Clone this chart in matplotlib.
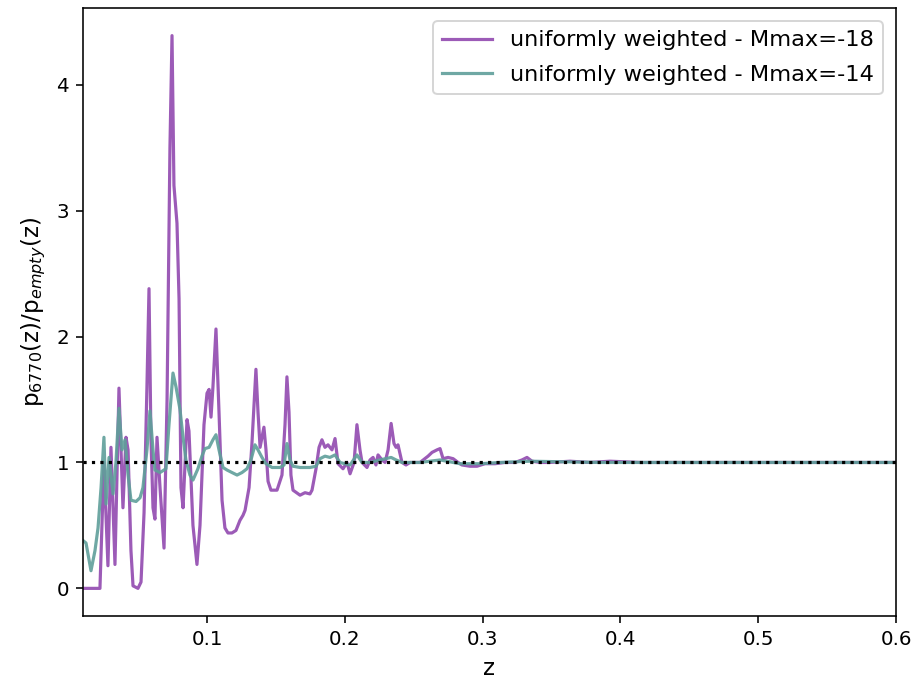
import matplotlib
matplotlib.use("Agg")
import matplotlib.pyplot as plt
import numpy as np

# redshift grid & ratio values
z_m18 = [0.010, 0.0223, 0.0252, 0.0281, 0.0303, 0.0332, 0.0361, 0.0390, 0.0412, 0.0427,
         0.0448, 0.0463, 0.0499, 0.0521, 0.0543, 0.0564, 0.0579, 0.0593, 0.0608, 0.0622,
         0.0637, 0.0659, 0.0688, 0.0710, 0.0731, 0.0746, 0.0760, 0.0782, 0.0797, 0.0811,
         0.0826, 0.0855, 0.0869, 0.0898, 0.0927, 0.0949, 0.0978, 0.1000, 0.1015, 0.1029,
         0.1043, 0.1065, 0.1087, 0.1109, 0.1130, 0.1152, 0.1181, 0.1210, 0.1239, 0.1261,
         0.1276, 0.1305, 0.1326, 0.1355, 0.1370, 0.1385, 0.1399, 0.1413, 0.1428, 0.1443,
         0.1464, 0.1508, 0.1544, 0.1566, 0.1580, 0.1595, 0.1609, 0.1624, 0.1675, 0.1711,
         0.1747, 0.1762, 0.1791, 0.1813, 0.1834, 0.1856, 0.1878, 0.1907, 0.1929, 0.1951,
         0.1987, 0.2016, 0.2038, 0.2067, 0.2088, 0.2110, 0.2125, 0.2161, 0.2183, 0.2205,
         0.2226, 0.2241, 0.2270, 0.2292, 0.2314, 0.2336, 0.2357, 0.2372, 0.2386, 0.2415,
         0.2444, 0.2473, 0.2546, 0.2604, 0.2633, 0.2669, 0.2691, 0.2713, 0.2749, 0.2786,
         0.2822, 0.2850, 0.2908, 0.2959, 0.3017, 0.3090, 0.3162, 0.3235, 0.3286, 0.3322,
         0.3358, 0.3416, 0.3489, 0.3634, 0.3779, 0.3924, 0.4142, 0.4432, 0.4723, 0.5013,
         0.5303, 0.5666, 0.600]
ratio_m18 = [0.0, 0.0, 1.0, 0.18, 1.12, 0.19, 1.59, 0.64, 1.2, 1.1,
             0.3, 0.02, 0.0, 0.05, 0.6, 1.6, 2.38, 1.2, 0.64, 0.55,
             1.2, 0.8, 0.32, 1.5, 3.5, 4.39, 3.2, 2.9, 2.3, 0.8,
             0.64, 1.34, 1.25, 0.5, 0.19, 0.5, 1.3, 1.55, 1.58, 1.36,
             1.6, 2.06, 1.4, 0.7, 0.48, 0.44, 0.44, 0.46, 0.54, 0.58,
             0.62, 0.8, 1.15, 1.74, 1.4, 1.12, 1.2, 1.28, 1.1, 0.85,
             0.78, 0.78, 0.9, 1.3, 1.68, 1.4, 0.9, 0.78, 0.74, 0.76,
             0.75, 0.78, 0.95, 1.12, 1.18, 1.12, 1.14, 1.1, 1.19, 0.99,
             0.95, 1.0, 0.91, 1.0, 1.3, 1.1, 1.0, 0.96, 1.02, 1.04,
             0.98, 1.06, 1.02, 1.0, 1.1, 1.31, 1.15, 1.12, 1.14, 1.0,
             0.98, 1.0, 1.0, 1.05, 1.08, 1.1, 1.11, 1.03, 1.04, 1.03,
             1.0, 0.98, 0.97, 0.97, 0.99, 0.99, 1.0, 1.0, 1.02, 1.04,
             1.01, 1.0, 1.0, 1.01, 1.0, 1.01, 1.0, 1.0, 1.0, 1.0,
             1.0, 1.0, 1.0]

z_m14 = [0.010, 0.0122, 0.0158, 0.0187, 0.0209, 0.0231, 0.0252, 0.0267, 0.0289, 0.0318,
         0.0339, 0.0361, 0.0383, 0.0405, 0.0427, 0.0448, 0.0485, 0.0514, 0.0535, 0.0564,
         0.0586, 0.0608, 0.0622, 0.0659, 0.0702, 0.0724, 0.0753, 0.0775, 0.0804, 0.0826,
         0.0847, 0.0876, 0.0898, 0.0934, 0.0963, 0.0985, 0.1015, 0.1043, 0.1065, 0.1087,
         0.1116, 0.1145, 0.1181, 0.1218, 0.1254, 0.1290, 0.1319, 0.1348, 0.1370, 0.1399,
         0.1428, 0.1472, 0.1530, 0.1559, 0.1580, 0.1602, 0.1624, 0.1675, 0.1747, 0.1791,
         0.1820, 0.1856, 0.1892, 0.1929, 0.1965, 0.2038, 0.2088, 0.2125, 0.2183, 0.2255,
         0.2336, 0.2372, 0.2415, 0.2546, 0.2691, 0.2836, 0.2981, 0.3126, 0.3344, 0.3852,
         0.4578, 0.600]
ratio_m14 = [0.38, 0.36, 0.14, 0.3, 0.48, 0.8, 1.2, 0.67, 1.04, 0.75,
             1.0, 1.43, 1.1, 1.18, 0.9, 0.7, 0.69, 0.72, 0.8, 1.1,
             1.41, 1.1, 0.94, 0.92, 0.95, 1.3, 1.71, 1.6, 1.42, 1.2,
             1.02, 0.9, 0.86, 0.95, 1.05, 1.11, 1.12, 1.18, 1.22, 1.1,
             0.96, 0.94, 0.92, 0.9, 0.92, 0.95, 1.02, 1.14, 1.1, 1.04,
             0.99, 0.96, 0.96, 0.98, 1.15, 1.02, 0.97, 0.96, 0.96, 0.97,
             1.03, 1.05, 1.04, 1.06, 1.0, 0.98, 1.06, 1.0, 1.0, 1.02,
             1.04, 1.02, 1.0, 1.0, 1.02, 0.99, 0.99, 1.0, 1.01, 1.0,
             1.0, 1.0]

labels = ["uniformly weighted - Mmax=-18", "uniformly weighted - Mmax=-14"]
xlim = (0.01, 0.6)

dpi = 143.125
fig = plt.figure(figsize=(916 / dpi, 685 / dpi), dpi=dpi)
ax = fig.add_axes([83 / 916, 1 - 616 / 685, (896 - 83) / 916, (616 - 8) / 685])

ax.plot(z_m18, ratio_m18, color="#8e44ad", alpha=0.88, lw=1.6, label=labels[0])
ax.plot(z_m14, ratio_m14, color="#5f9f9a", alpha=0.9, lw=1.6, label=labels[1])
ax.axhline(1.0, color="black", ls=":", lw=1.6)

ax.set_xlim(*xlim)
ax.set_xlabel("z", fontsize=11.5)
ax.set_ylabel(r"p$_{6770}$(z)/p$_{empty}$(z)", fontsize=11.5)
ax.legend(loc="upper right", fontsize=11.3, labelspacing=0.65, handlelength=2.2,
          borderaxespad=0.6)

fig.savefig("out.png", dpi=dpi)
